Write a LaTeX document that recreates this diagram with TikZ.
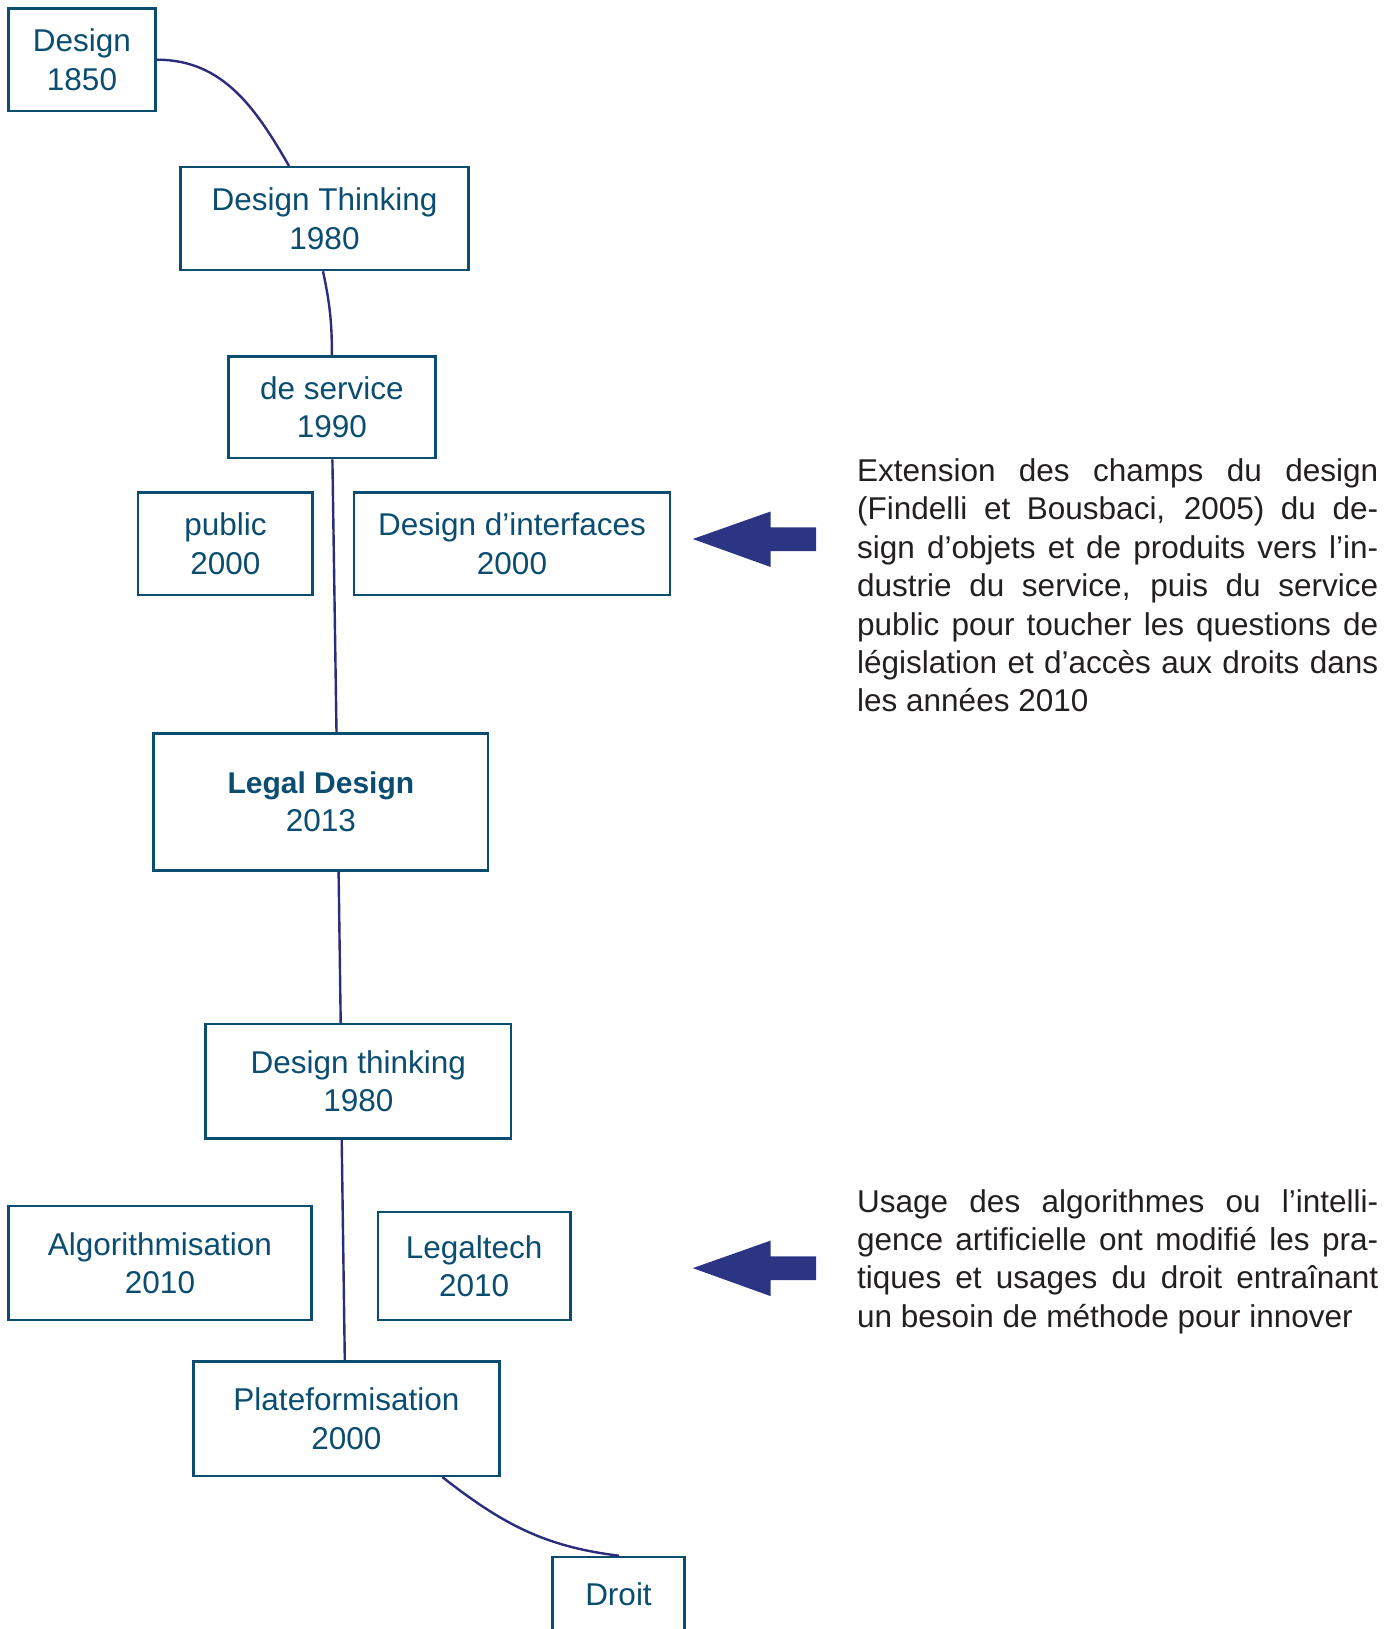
\documentclass[tikz,border=0pt]{standalone}
\usepackage{fontspec}
\setmainfont{Liberation Sans}
\definecolor{boxblue}{HTML}{0B4D70}
\definecolor{linkblue}{HTML}{2B2D7C}
\definecolor{arrowblue}{HTML}{2B3583}
\definecolor{bodytext}{HTML}{231F20}
\newcommand{\jline}[1]{\makebox[521pt][s]{#1}\\}
\begin{document}
\begin{tikzpicture}[x=1pt,y=1pt,
  box/.style={draw=boxblue, line width=2.6pt, text=boxblue, align=center,
    inner sep=0pt, font=\fontsize{31.5}{38.5}\selectfont},
  link/.style={draw=linkblue, line width=2.4pt},
  bigarrow/.style={fill=arrowblue, draw=none},
  note/.style={anchor=base west, inner sep=0pt, text=bodytext}]
\useasboundingbox (0,0) rectangle (1399,-1629);

% timeline boxes
\node[box, minimum width=147.5pt, minimum height=102.8pt] (d1850) at (82,-59.7) {Design\\1850};
\node[box, minimum width=287.7pt, minimum height=102.8pt] (dthink) at (324.5,-218.6) {Design Thinking\\1980};
\node[box, minimum width=206.7pt, minimum height=101.8pt] (dserv) at (331.9,-407.1) {de service\\1990};
\node[box, minimum width=174.5pt, minimum height=102.8pt] (dpub) at (225.4,-543.7) {public\\2000};
\node[box, minimum width=315.7pt, minimum height=102.8pt] (dint) at (512,-543.7) {Design d’interfaces\\2000};
\node[box, minimum width=334.4pt, minimum height=137.1pt] (legal) at (320.9,-801.9) {{\fontsize{30}{38.5}\selectfont\bfseries Legal Design}\\2013};
\node[box, minimum width=305.4pt, minimum height=114.3pt] (dthink2) at (358.3,-1081.2) {Design thinking\\1980};
\node[box, minimum width=303.3pt, minimum height=114.3pt] (algo) at (160,-1263) {Algorithmisation\\2010};
\node[box, minimum width=192.2pt, minimum height=108pt] (ltech) at (474.1,-1266) {Legaltech\\2010};
\node[box, minimum width=306.4pt, minimum height=114.2pt] (plat) at (346.4,-1418.7) {Plateformisation\\2000};
\node[box, minimum width=131.9pt, minimum height=74pt] (droit) at (618.5,-1594) {Droit};

% connectors
\draw[link] (d1850.east) to[out=0, in=120] ([xshift=-35.5pt]dthink.north);
\draw[link] ([xshift=-1.5pt]dthink.south) to[out=-78, in=90] (dserv.north);
\draw[link] ([xshift=0.5pt]dserv.south) -- ([xshift=15.6pt]legal.north);
\draw[link] ([xshift=17.7pt]legal.south) -- ([xshift=-17.6pt]dthink2.north);
\draw[link] ([xshift=-16.6pt]dthink2.south) -- ([xshift=-1.6pt]plat.north);
\draw[link] ([xshift=96pt]plat.south) to[out=-38, in=173] ([xshift=0.5pt]droit.north);

% block arrows pointing at the columns
\fill[bigarrow] (692.8,-539) -- (770.6,-511.5) -- (770.6,-527.3) -- (816,-527.3)
  -- (816,-551) -- (770.6,-551) -- (770.6,-567) -- cycle;
\fill[bigarrow] (692.8,-1268.1) -- (770.6,-1240.6) -- (770.6,-1256.4) -- (816,-1256.4)
  -- (816,-1280.1) -- (770.6,-1280.1) -- (770.6,-1296.1) -- cycle;

% side notes
\node[note] (noteA) at (857,-481.5) {\parbox[t]{521pt}{\fontsize{31.5}{38.4}\selectfont
\jline{Extension des champs du design}
\jline{(Findelli et Bousbaci, 2005) du de-}
\jline{sign d’objets et de produits vers l’in-}
\jline{dustrie du service, puis du service}
\jline{public pour toucher les questions de}
\jline{législation et d’accès aux droits dans}
les années 2010}};
\node[note] (noteB) at (857,-1212) {\parbox[t]{521pt}{\fontsize{31.5}{38.4}\selectfont
\jline{Usage des algorithmes ou l’intelli-}
\jline{gence artificielle ont modifié les pra-}
\jline{tiques et usages du droit entraînant}
un besoin de méthode pour innover}};
\end{tikzpicture}
\end{document}
